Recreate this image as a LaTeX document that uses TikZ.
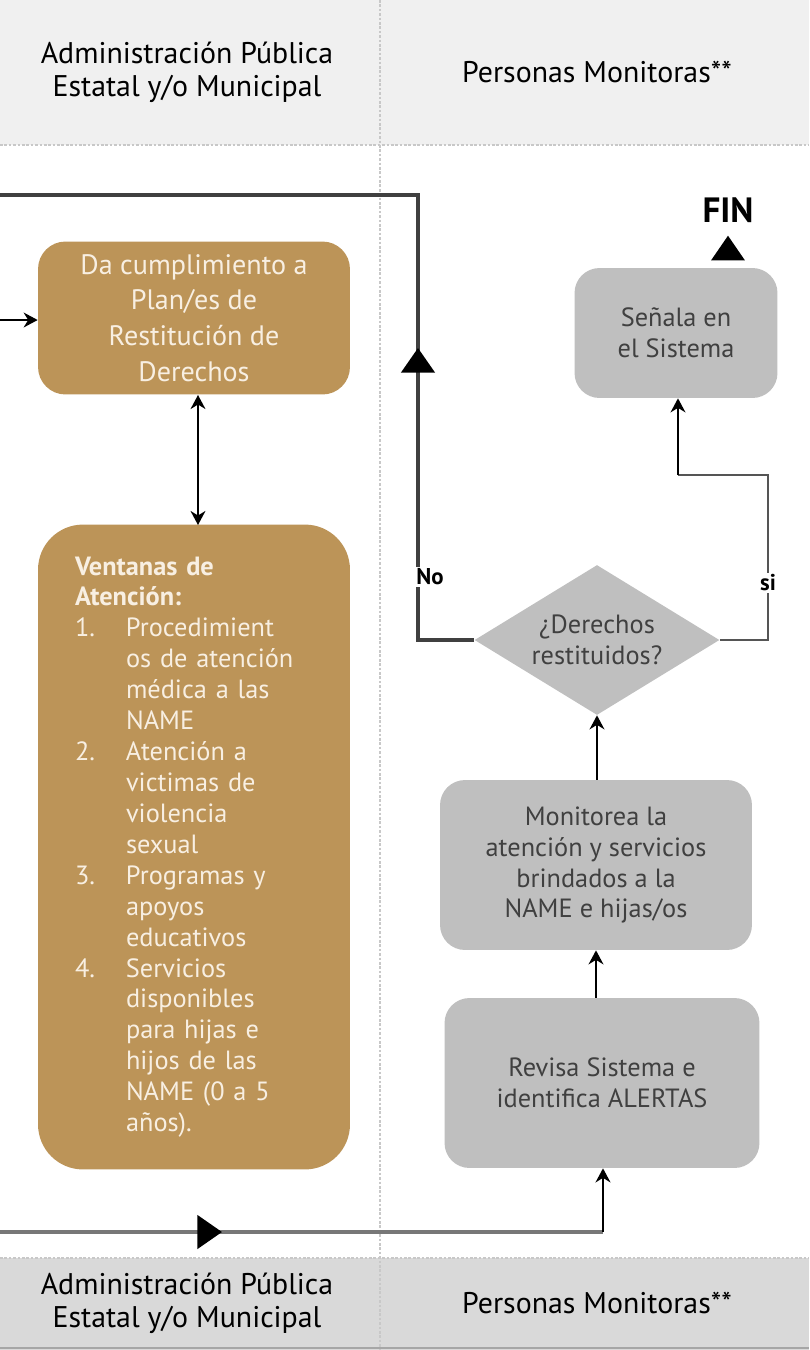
\documentclass[tikz,border=0pt]{standalone}
\usepackage{fontspec}
\setmainfont{PT Sans}
\usetikzlibrary{arrows.meta, positioning, shapes.geometric}
\definecolor{tanfill}{HTML}{BC9458}
\definecolor{tantext}{HTML}{F8EFE2}
\definecolor{boxgrey}{HTML}{BFBFBF}
\definecolor{greytext}{HTML}{404040}
\definecolor{bandtop}{HTML}{F0F0F0}
\definecolor{bandbot}{HTML}{D9D9D9}
\definecolor{dotgrey}{HTML}{C8C8C8}
\definecolor{linedark}{HTML}{404040}
\definecolor{linemid}{HTML}{555555}
\definecolor{linelight}{HTML}{777777}

\begin{document}
\begin{tikzpicture}[
    x=0.02cm, y=-0.02cm,
    goldbox/.style={rounded corners=0.55cm, fill=tanfill, text=tantext, minimum width=6.24cm, align=center, inner sep=0pt, font=\fontsize{16}{20.4}\selectfont},
    greybox/.style={rounded corners=0.5cm, fill=boxgrey, text=greytext, align=center, inner sep=0pt, font=\fontsize{15}{17.6}\selectfont},
    decision/.style={diamond, aspect=1.63, fill=boxgrey, text=greytext, align=center, inner sep=0pt, minimum width=4.9cm, minimum height=3cm, font=\fontsize{15}{17.6}\selectfont},
    lanetitle/.style={align=center, font=\fontsize{17}{19}\selectfont},
    tag/.style={font=\fontsize{13}{15}\selectfont\bfseries, fill=white, inner sep=1pt},
    divider/.style={dotgrey, line width=1.2pt, dash pattern=on 1.5pt off 1pt},
    arrow/.style={-{Stealth[length=8pt,width=8.5pt]}, line width=1pt, black},
    bigtip/.style={-{Triangle[length=14pt,width=19pt,color=black]}}
]
\useasboundingbox (0,0) rectangle (809,1350);

% lane bands
\fill[bandtop] (0,0) rectangle (809,145);
\fill[bandbot] (0,1258) rectangle (809,1350);
\draw[divider] (0,145) -- (809,145);
\draw[divider] (0,1258) -- (809,1258);
\draw[divider] (380,0) -- (380,1350);
\draw[black!35, line width=1.5pt] (0,1348) -- (809,1348);

\node[lanetitle] (adminTop) at (187,72) {Administración Pública\\Estatal y/o Municipal};
\node[lanetitle] (monTop) at (597,72) {Personas Monitoras**};
\node[lanetitle] (adminBot) at (187,1303) {Administración Pública\\Estatal y/o Municipal};
\node[lanetitle] (monBot) at (597,1303) {Personas Monitoras**};

% left lane
\node[goldbox, minimum height=3.06cm] (plan) at (194,318) {Da cumplimiento a\\Plan/es de\\Restitución de\\Derechos};
\node[goldbox, rounded corners=0.9cm, minimum height=12.9cm, text width=4.76cm, inner xsep=0.74cm, align=left,
      font=\fontsize{15}{17.6}\selectfont] (ventanas) at (194,847) {%
  \textbf{Ventanas de}\\
  \textbf{Atención:}\\
  \makebox[1.02cm][l]{1.}Procedimient\\
  \hspace*{1.02cm}os de atención\\
  \hspace*{1.02cm}médica a las\\
  \hspace*{1.02cm}NAME\\
  \makebox[1.02cm][l]{2.}Atención a\\
  \hspace*{1.02cm}victimas de\\
  \hspace*{1.02cm}violencia\\
  \hspace*{1.02cm}sexual\\
  \makebox[1.02cm][l]{3.}Programas y\\
  \hspace*{1.02cm}apoyos\\
  \hspace*{1.02cm}educativos\\
  \makebox[1.02cm][l]{4.}Servicios\\
  \hspace*{1.02cm}disponibles\\
  \hspace*{1.02cm}para hijas e\\
  \hspace*{1.02cm}hijos de las\\
  \hspace*{1.02cm}NAME (0 a 5\\
  \hspace*{1.02cm}años).};

% right lane
\node[greybox, minimum width=4.06cm, minimum height=2.6cm] (senala) at (676,333) {Señala en\\el Sistema};
\node[font=\fontsize{20}{22}\selectfont\bfseries] (fin) at (728,210) {FIN};
\node[decision] (dec) at (597,640) {¿Derechos\\restituidos?};
\node[greybox, minimum width=6.24cm, minimum height=3.4cm] (monitorea) at (596,865) {Monitorea la\\atención y servicios\\brindados a la\\NAME e hijas/os};
\node[greybox, minimum width=6.3cm, minimum height=3.4cm] (revisa) at (602,1083) {Revisa Sistema e\\identifica ALERTAS};

\coordinate (inL) at (0,320);
\coordinate (noTurn) at (418,640);
\coordinate (topTurn) at (418,195);
\coordinate (topEnd) at (0,195);
\coordinate (noMark) at (418,348);
\coordinate (siTurn) at (768,640);
\coordinate (siTop) at (768,475);
\coordinate (siBack) at (678,475);
\coordinate (botStart) at (0,1232);
\coordinate (botMark) at (222,1232);
\coordinate (botTurn) at (603,1232);

% connectors
\draw[arrow] (inL) -- (plan.west |- inL);
\draw[{Stealth[length=8pt,width=8.5pt]}-{Stealth[length=8pt,width=8.5pt]}, line width=1pt] (198,395) -- (198,525);
\draw[arrow] (revisa.north -| monitorea.south) -- (monitorea.south);
\draw[arrow] (monitorea.north -| dec.south) -- (dec.south);

\draw[linedark, line width=1.8pt] (dec.west) -- (noTurn) -- (topTurn) -- (topEnd);
\draw[linedark, line width=1.8pt, bigtip] (noTurn) -- (noMark);
\node[tag] (no) at (430,577) {No};

\draw[linemid, line width=1.5pt] (dec.east) -- (siTurn) -- (siTop) -- (siBack);
\draw[arrow] (siBack) -- (siBack |- senala.south);
\node[tag] (si) at (768,583) {si};

\draw[bigtip, line width=1pt, shorten <=10pt, shorten >=4pt] (senala.north -| fin) -- (fin.south);

\draw[linelight, line width=1.8pt] (botStart) -- (botTurn);
\draw[linelight, line width=1.8pt, bigtip] (botStart) -- (botMark);
\draw[arrow, line width=1.2pt] (botTurn) -- (botTurn |- revisa.south);
\end{tikzpicture}
\end{document}
